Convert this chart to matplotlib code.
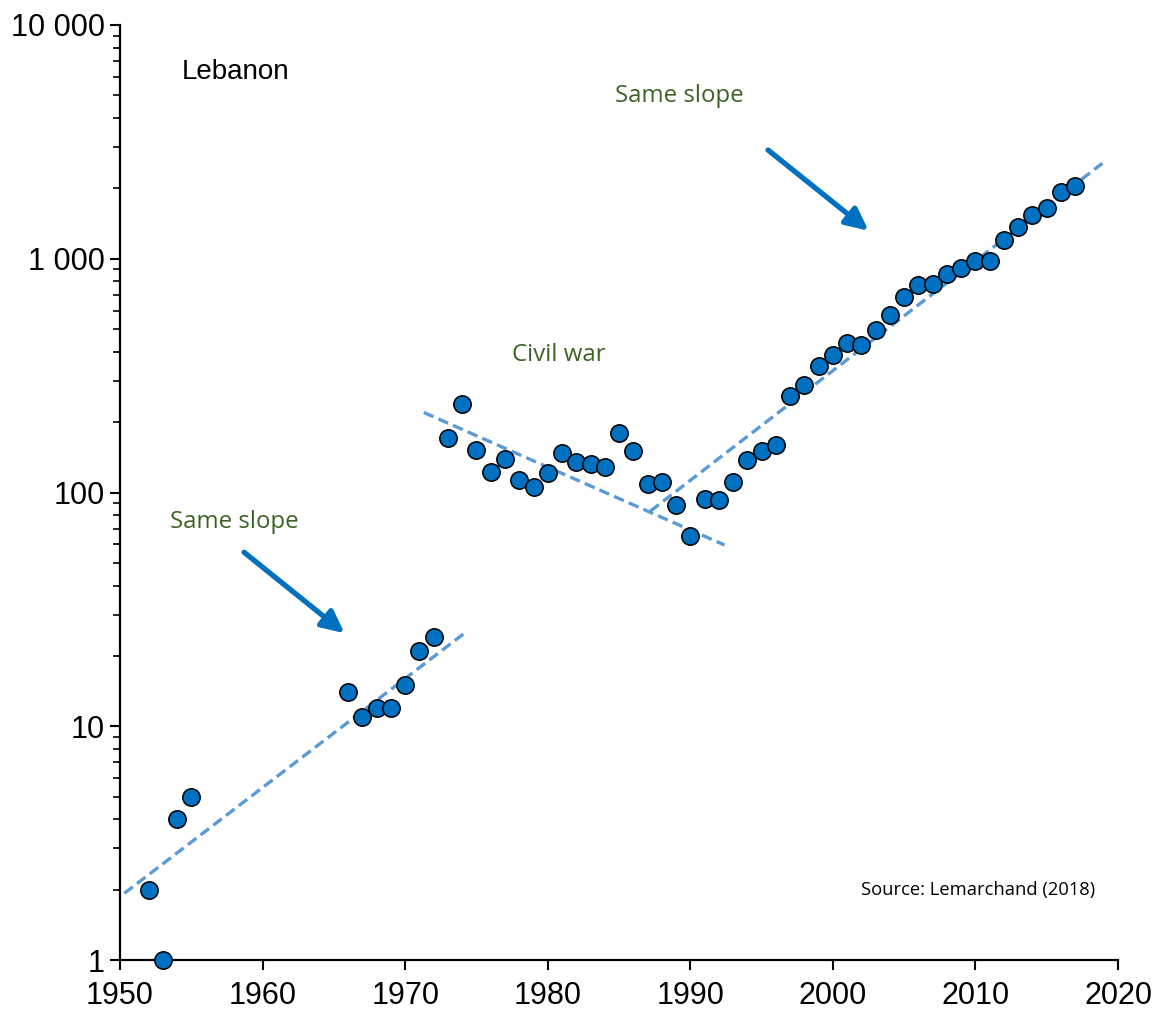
import matplotlib
matplotlib.use("Agg")
import matplotlib.pyplot as plt
from matplotlib.ticker import FixedLocator, LogLocator, NullFormatter

years = [1952, 1953, 1954, 1955, 1966, 1967, 1968, 1969, 1970, 1971, 1972,
         1973, 1974, 1975, 1976, 1977, 1978, 1979, 1980, 1981, 1982, 1983,
         1984, 1985, 1986, 1987, 1988, 1989, 1990, 1991, 1992, 1993, 1994,
         1995, 1996, 1997, 1998, 1999, 2000, 2001, 2002, 2003, 2004, 2005,
         2006, 2007, 2008, 2009, 2010, 2011, 2012, 2013, 2014, 2015, 2016, 2017]
values = [2, 1, 4, 5, 14, 11, 12, 12, 15, 21, 24,
          171, 239, 152, 122, 139, 113, 106, 121, 148, 135, 132,
          128, 180, 150, 109, 111, 88, 65, 94, 93, 111, 138,
          150, 160, 259, 288, 348, 387, 436, 428, 496, 574, 686,
          772, 780, 860, 913, 978, 978, 1203, 1367, 1538, 1648, 1931, 2048]

trend1_years = [1950.3, 1974.3]
trend1_values = [1.93, 25.4]
trend2_years = [1971.3, 1992.4]
trend2_values = [220, 59.6]
trend3_years = [1987.2, 2018.9]
trend3_values = [83.3, 2560]

arrow1_start = (1958.7, 55.5)
arrow1_end = (1965.75, 25.0)
arrow2_start = (1995.45, 2918)
arrow2_end = (2002.5, 1318)

xticks = [1950, 1960, 1970, 1980, 1990, 2000, 2010, 2020]
yticks = [1, 10, 100, 1000, 10000]
ytick_labels = ["1", "10", "100", "1 000", "10 000"]

fig = plt.figure(figsize=(11.69, 10.16), dpi=100)
ax = fig.add_axes([0.1027, 0.0551, 0.8537, 0.9203])
ax.set_yscale("log")
ax.set_xlim(1950, 2020)
ax.set_ylim(1, 10000)

dash = (0, (3.2, 1.6))
lc = "#5B9BD5"
for tx, ty in [(trend1_years, trend1_values), (trend2_years, trend2_values),
               (trend3_years, trend3_values)]:
    ax.plot(tx, ty, color=lc, lw=2.4, linestyle=dash, zorder=2)

ax.scatter(years, values, s=12.5**2, color="#0070C0", edgecolors="black",
           linewidths=1.1, zorder=5, clip_on=False)

for st, en in [(arrow1_start, arrow1_end), (arrow2_start, arrow2_end)]:
    ax.annotate("", xy=en, xytext=st,
                arrowprops=dict(arrowstyle="-|>,head_length=1.35,head_width=0.65",
                                color="#0070C0", lw=3.8, shrinkA=0, shrinkB=0))

green = "#3B6424"
ax.text(1954.3, 10 ** ((960 - 72) / 233.75), "Lebanon",
        fontsize=20, family="Liberation Sans", va="center", ha="left")
ax.text(1953.5, 10 ** ((960 - 522) / 233.75), "Same slope", fontsize=17.3,
        family="Open Sans", color=green, va="center", ha="left")
ax.text(1977.5, 10 ** ((960 - 355) / 233.75), "Civil war", fontsize=17.3,
        family="Open Sans", color=green, va="center", ha="left")
ax.text(1984.7, 10 ** ((960 - 96) / 233.75), "Same slope", fontsize=17.3,
        family="Open Sans", color=green, va="center", ha="left")
ax.text(2018.4, 10 ** ((960 - 890) / 233.75), "Source: Lemarchand (2018)",
        fontsize=13.2, family="Open Sans", color="black", va="center", ha="right")

for s in ["top", "right"]:
    ax.spines[s].set_visible(False)
for s in ["left", "bottom"]:
    ax.spines[s].set_linewidth(1.6)

ax.xaxis.set_major_locator(FixedLocator(xticks))
ax.set_xticklabels([str(x) for x in xticks], family="Liberation Sans", fontsize=22)
ax.yaxis.set_major_locator(FixedLocator(yticks))
ax.set_yticklabels(ytick_labels, family="Liberation Sans", fontsize=22)
ax.yaxis.set_minor_locator(LogLocator(base=10, subs=range(2, 10)))
ax.yaxis.set_minor_formatter(NullFormatter())
ax.tick_params(axis="both", which="major", direction="out", length=7, width=1.5)
ax.tick_params(axis="y", which="major", pad=4)
ax.tick_params(axis="x", which="major", pad=8)
ax.tick_params(axis="y", which="minor", direction="out", length=5, width=1.2)
ax.tick_params(axis="x", which="minor", bottom=False)

fig.savefig("out.png", dpi=100, facecolor="white")
